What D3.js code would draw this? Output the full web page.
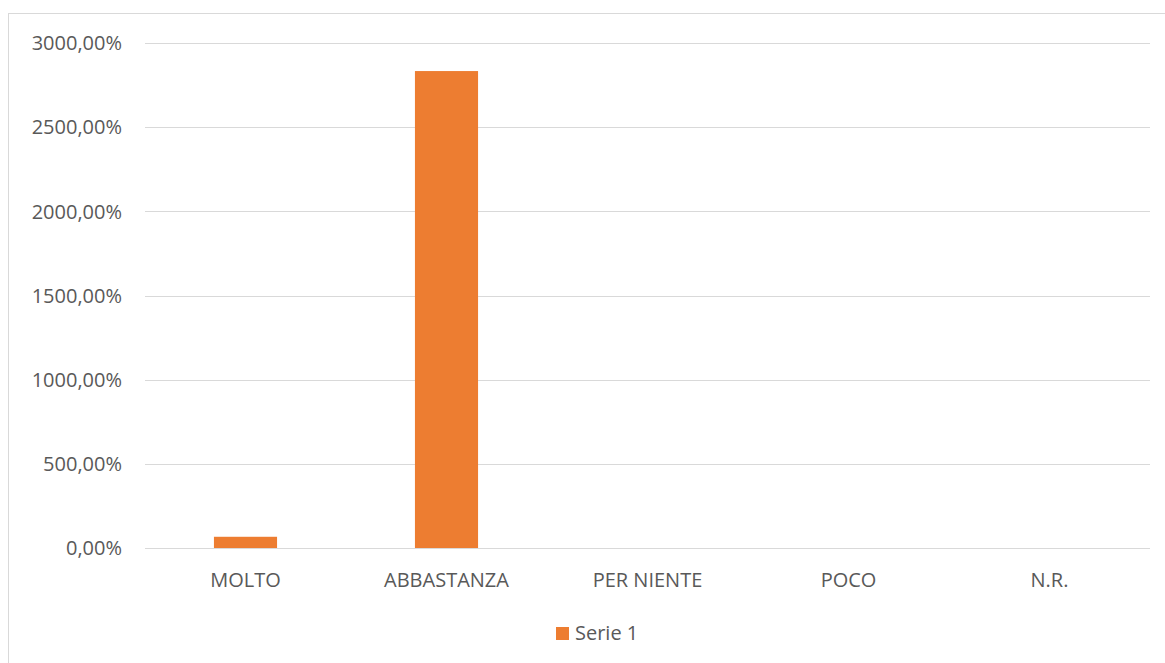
<!DOCTYPE html>
<html>
<head>
<meta charset="utf-8">
<script src="https://cdn.jsdelivr.net/npm/d3@7"></script>
<style>
  body { margin: 0; background: #fff; overflow: hidden; }
  text { font-family: "Open Sans", "Liberation Sans", sans-serif; fill: #595959; }
</style>
</head>
<body>
<svg id="chart"></svg>
<script>
// dati
const categories = ["MOLTO", "ABBASTANZA", "PER NIENTE", "POCO", "N.R."];
const serie1 = [66.67, 2833.33, 0, 0, 0];
const yTicks = [0, 500, 1000, 1500, 2000, 2500, 3000];
const seriesName = "Serie 1";

const width = 1165, height = 663;
const margin = {top: 43, right: 15, bottom: 115, left: 145};

const svg = d3.select("#chart")
    .attr("width", width)
    .attr("height", height)
    .style("display", "block");

// bordo del grafico
svg.append("rect")
    .attr("x", 8.5).attr("y", 13.5)
    .attr("width", 1170).attr("height", 660)
    .attr("fill", "none")
    .attr("stroke", "#d9d9d9");

const x = d3.scaleBand()
    .domain(categories)
    .range([margin.left, width - margin.right])
    .paddingInner(0.686)
    .paddingOuter(0.343);

const xBand = d3.scaleBand()
    .domain(categories)
    .range([margin.left, width - margin.right]);

const y = d3.scaleLinear()
    .domain([0, 3000])
    .range([height - margin.bottom, margin.top]);

const fmt = v => d3.format(".2f")(v).replace(".", ",") + "%";

// griglia
svg.append("g")
    .selectAll("line")
    .data(yTicks)
    .join("line")
    .attr("x1", margin.left)
    .attr("x2", width - margin.right)
    .attr("y1", d => Math.round(y(d)) + 0.5)
    .attr("y2", d => Math.round(y(d)) + 0.5)
    .attr("stroke", "#d9d9d9")
    .attr("stroke-width", 1.2);

// etichette asse y
svg.append("g")
    .selectAll("text")
    .data(yTicks)
    .join("text")
    .attr("x", 122)
    .attr("y", d => y(d))
    .attr("dy", "0.36em")
    .attr("text-anchor", "end")
    .attr("font-size", "20px")
    .text(d => fmt(d));

// barre
svg.append("g")
    .selectAll("rect")
    .data(serie1)
    .join("rect")
    .attr("x", (d, i) => x(categories[i]))
    .attr("width", x.bandwidth())
    .attr("y", d => y(d))
    .attr("height", d => y(0) - y(d))
    .attr("fill", "#ED7D31");

// etichette asse x
svg.append("g")
    .selectAll("text")
    .data(categories)
    .join("text")
    .attr("x", d => xBand(d) + xBand.bandwidth() / 2)
    .attr("y", 587)
    .attr("text-anchor", "middle")
    .attr("font-size", "20px")
    .text(d => d);

// legenda
const leg = svg.append("g").attr("transform", "translate(556, 627)");
leg.append("rect")
    .attr("width", 13).attr("height", 13)
    .attr("fill", "#ED7D31");
leg.append("text")
    .attr("x", 19).attr("y", 13)
    .attr("font-size", "20px")
    .text(seriesName);
</script>
</body>
</html>
